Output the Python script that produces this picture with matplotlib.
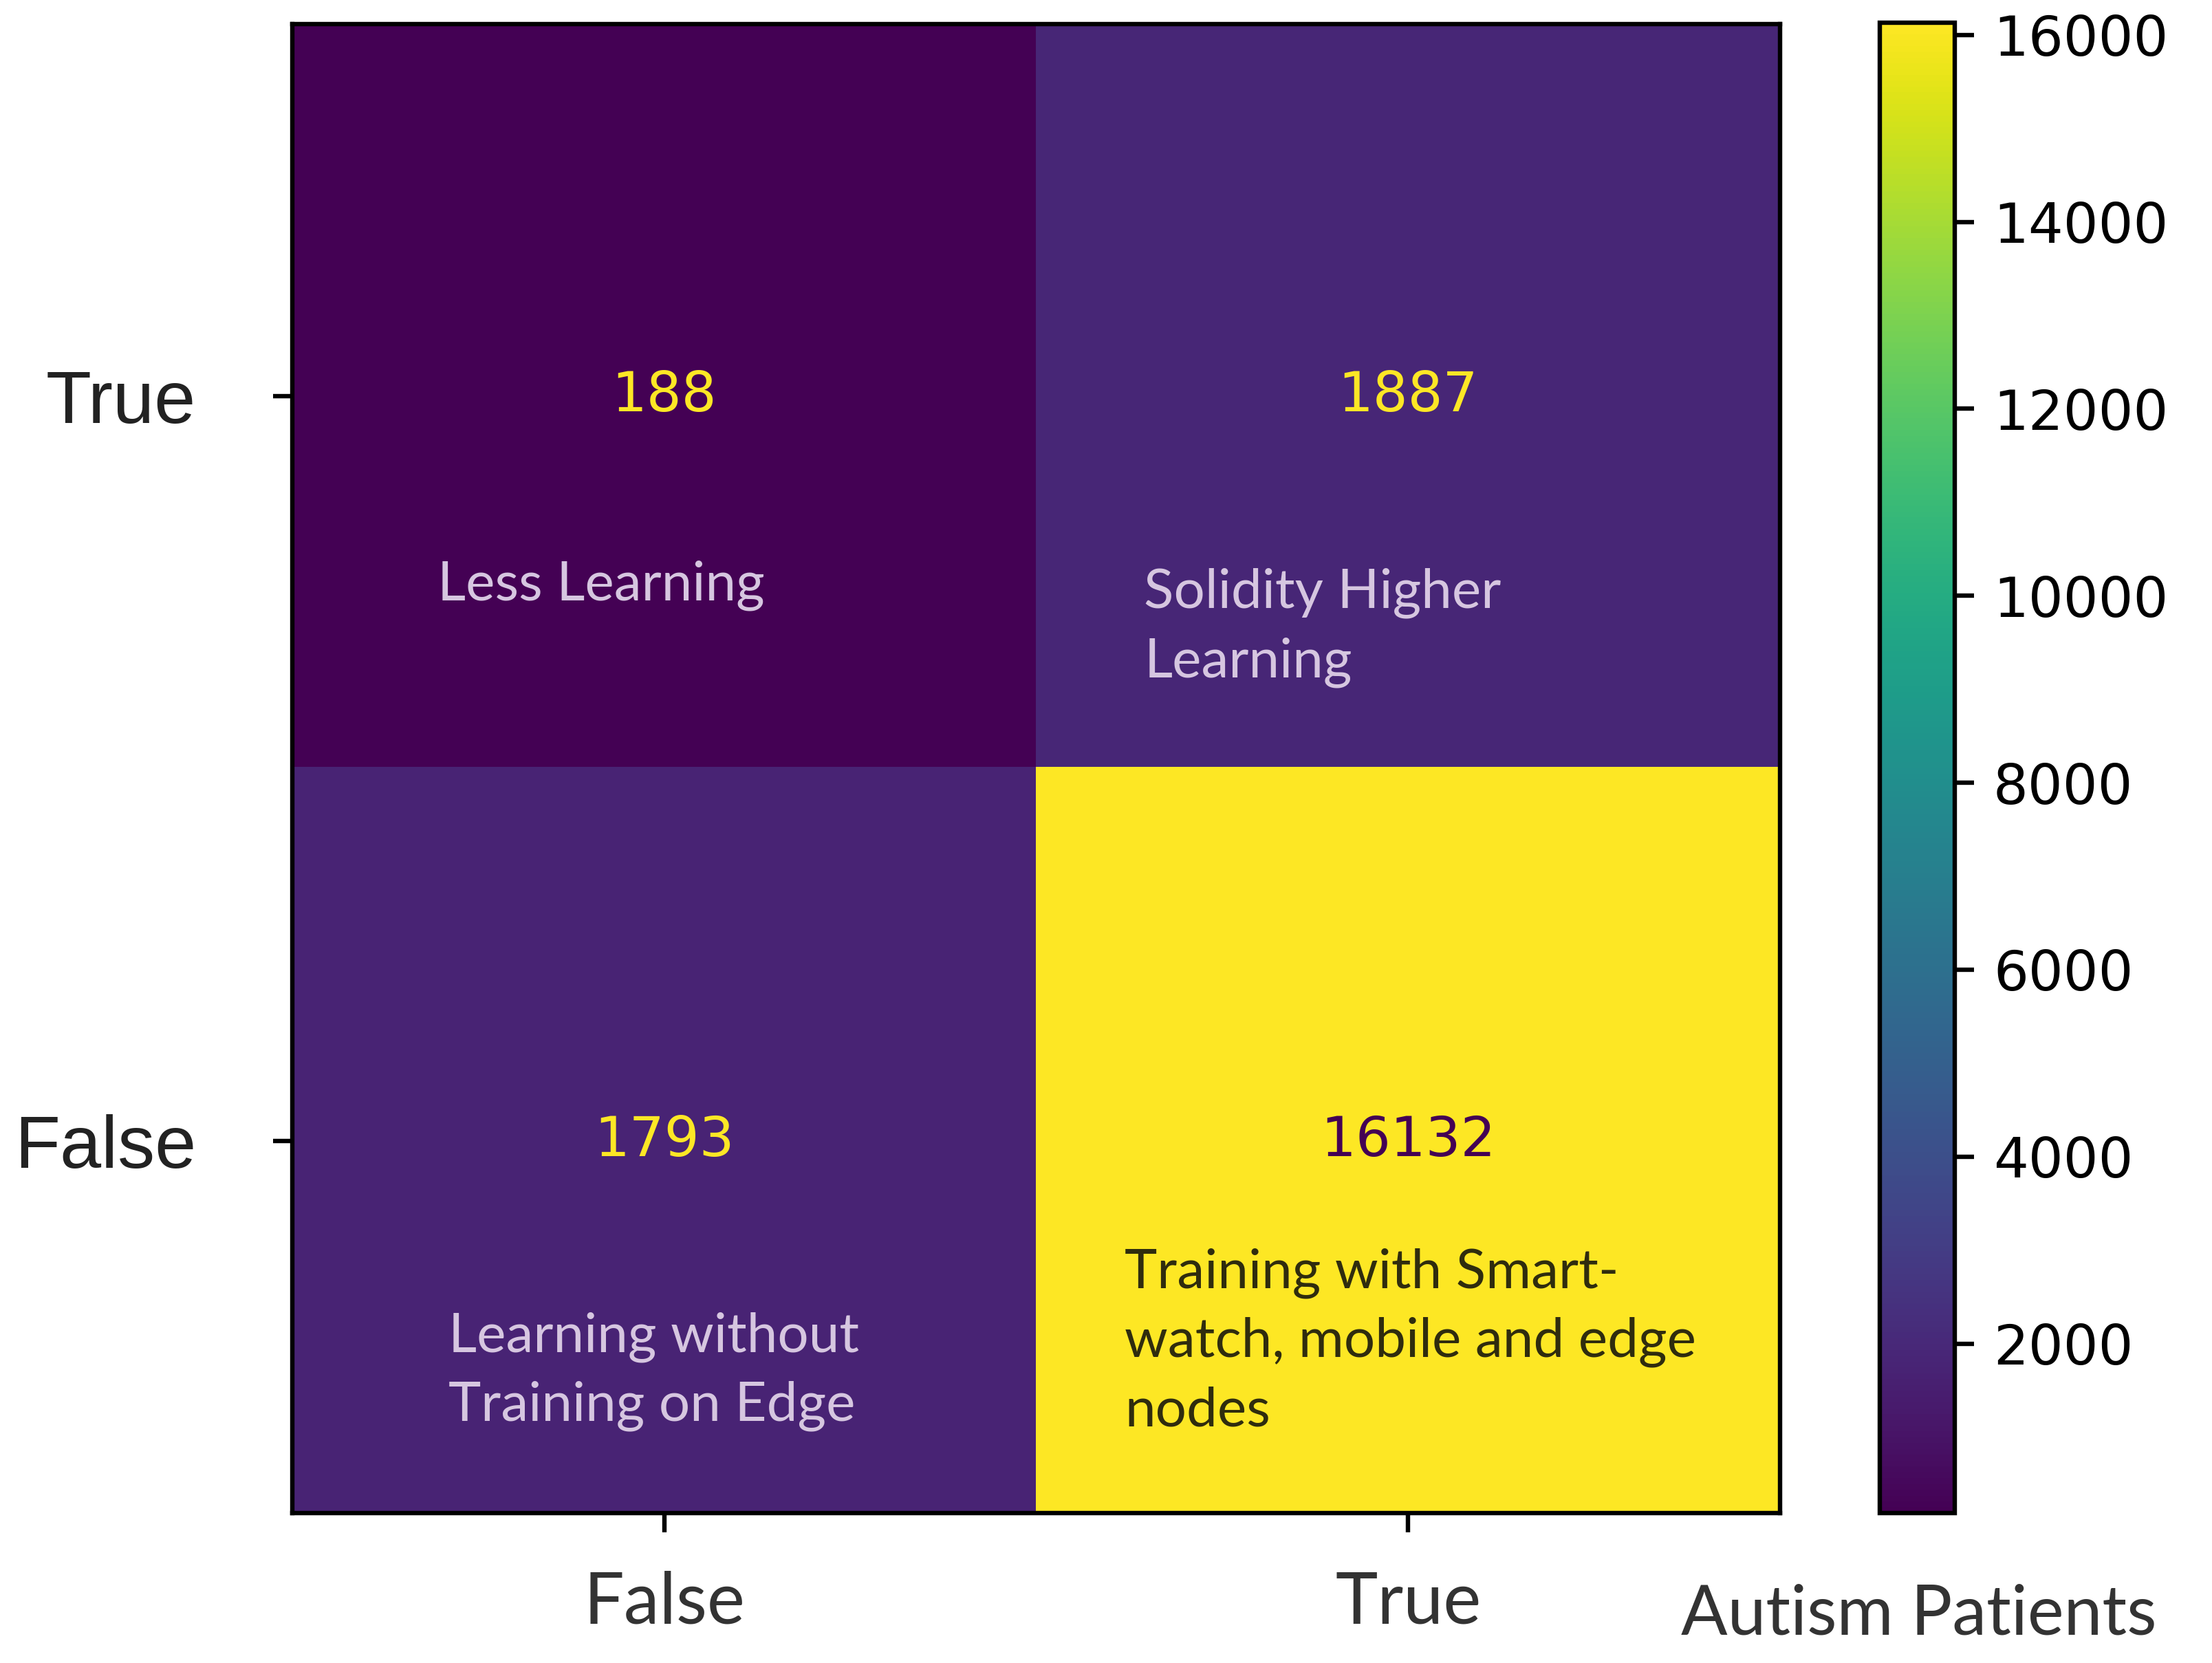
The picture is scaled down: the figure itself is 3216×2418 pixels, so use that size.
import numpy as np
import matplotlib
matplotlib.use("Agg")
import matplotlib.pyplot as plt

# ---- data ----
row_labels = ["True", "False"]          # y tick labels (top to bottom)
col_labels = ["False", "True"]          # x tick labels (left to right)
values = [[188, 1887],
          [1793, 16132]]
cell_notes = [["Less Learning", "Solidity Higher\nLearning"],
              ["Learning without\nTraining on Edge", "Training with Smart-\nwatch, mobile and edge\nnodes"]]
cbar_ticks = [2000, 4000, 6000, 8000, 10000, 12000, 14000, 16000]
cbar_title = "Autism Patients"

DPI = 576
fig = plt.figure(figsize=(3216 / DPI, 2418 / DPI), dpi=DPI)
ax = fig.add_axes([0.1322, 0.0902, 0.6725, 0.8953])
cax = fig.add_axes([0.8498, 0.0902, 0.0339, 0.8962])

cm = np.array(values)
vmin, vmax = cm.min(), cm.max()
cmap = plt.get_cmap("viridis")
im = ax.imshow(cm, cmap=cmap, vmin=vmin, vmax=vmax, aspect="auto")

thresh = (vmin + vmax) / 2.0
for i in range(cm.shape[0]):
    for j in range(cm.shape[1]):
        color = cmap(0.0) if cm[i, j] >= thresh else cmap(1.0)
        ax.text(j, i, f"{cm[i, j]}", ha="center", va="center",
                color=color, fontsize=10, family="DejaVu Sans")

# overlay notes (positions in data coords)
note_pos = [[(-0.305, 0.254), (0.645, 0.311)],
            [(-0.290, 1.310), (0.619, 1.270)]]
for i in range(2):
    for j in range(2):
        x, y = note_pos[i][j]
        col = "#2f2c0e" if cm[i, j] >= thresh else "#d6c6e0"
        ax.text(x, y, cell_notes[i][j], ha="left", va="center", color=col,
                fontsize=10, family="Lato", linespacing=1.47)

ax.set_xticks(range(len(col_labels)))
ax.set_xticklabels(col_labels, family="Lato", fontsize=13, color="#333333")
ax.set_yticks(range(len(row_labels)))
ax.set_yticklabels(row_labels, family="Liberation Sans", fontsize=13.5, color="#222222")
ax.tick_params(axis="y", pad=14)
ax.tick_params(axis="x", pad=7)

cb = fig.colorbar(im, cax=cax)
cb.set_ticks(cbar_ticks)
cax.tick_params(labelsize=10)

fig.text(2790 / 3216, 1 - 2348 / 2418, cbar_title, ha="center", va="center",
         family="Lato", fontsize=12.5, color="#333333")

fig.savefig("out.png", dpi=DPI)
